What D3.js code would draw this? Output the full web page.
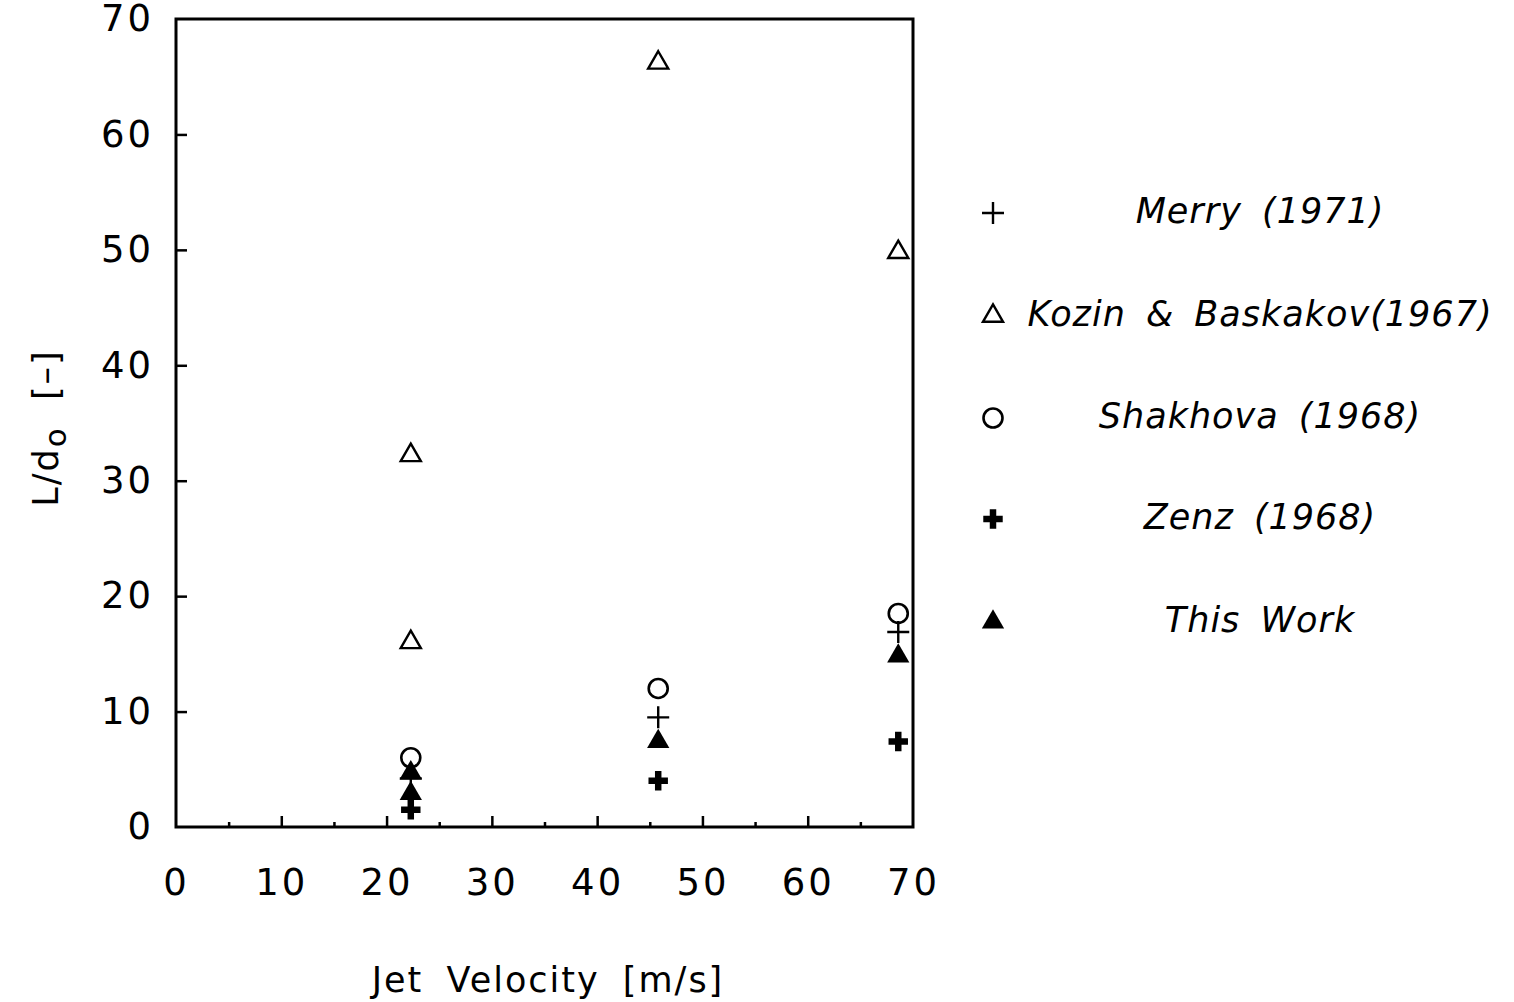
<!DOCTYPE html>
<html>
<head>
<meta charset="utf-8">
<script src="https://cdn.jsdelivr.net/npm/d3@7"></script>
<style>
  html, body { margin: 0; padding: 0; background: #fff; }
  svg { display: block; }
  text { font-family: "DejaVu Sans", sans-serif; fill: #000; }
</style>
</head>
<body>
<svg id="chart" width="1514" height="1002"></svg>
<script>
// Penetration length L/d0 versus jet velocity, several literature sources
const xTicks = [0, 10, 20, 30, 40, 50, 60, 70];
const yTicks = [0, 10, 20, 30, 40, 50, 60, 70];

const merryX = [22.3, 45.8, 68.6];
const merryY = [4.2, 9.5, 16.9];

const kozinX = [22.3, 22.3, 45.8, 68.6];
const kozinY = [32.2, 16.0, 66.2, 49.8];

const shakhovaX = [22.3, 45.8, 68.6];
const shakhovaY = [6.0, 12.0, 18.5];

const zenzX = [22.3, 45.8, 68.6];
const zenzY = [1.5, 4.0, 7.4];

const thisWorkX = [22.3, 22.3, 45.8, 68.6];
const thisWorkY = [4.7, 2.9, 7.4, 14.8];

const legendLabels = ["Merry (1971)", "Kozin & Baskakov(1967)", "Shakhova (1968)", "Zenz (1968)", "This Work"];

const svg = d3.select("#chart");
const margin = { left: 176, top: 19, right: 913, bottom: 827 };

const x = d3.scaleLinear().domain([0, 70]).range([margin.left, margin.right]);
const y = d3.scaleLinear().domain([0, 70]).range([margin.bottom, margin.top]);

// thin plus path
function thinPlus(s) {
  return `M${-s},0H${s}M0,${-s}V${s}`;
}

const markers = {
  merry: g => g.append("path").attr("d", thinPlus(11)).attr("fill", "none").attr("stroke", "#000").attr("stroke-width", 2.4),
  kozin: g => g.append("path").attr("d", d3.symbol(d3.symbolTriangle, 175)()).attr("fill", "none").attr("stroke", "#000").attr("stroke-width", 2.4),
  shakhova: g => g.append("circle").attr("r", 9.5).attr("fill", "none").attr("stroke", "#000").attr("stroke-width", 2.6),
  zenz: g => g.append("path").attr("d", d3.symbol(d3.symbolCross, 210)()).attr("fill", "#000"),
  thisWork: g => g.append("path").attr("d", d3.symbol(d3.symbolTriangle, 215)()).attr("fill", "#000")
};

const series = [
  { key: "merry", xs: merryX, ys: merryY },
  { key: "kozin", xs: kozinX, ys: kozinY },
  { key: "shakhova", xs: shakhovaX, ys: shakhovaY },
  { key: "zenz", xs: zenzX, ys: zenzY },
  { key: "thisWork", xs: thisWorkX, ys: thisWorkY }
];

// Axes (ticks pointing inward)
const xAxis = d3.axisBottom(x).tickValues(xTicks).tickSize(-11).tickSizeOuter(0).tickPadding(42).tickFormat(d3.format("d"));
const xMinor = d3.axisBottom(x).tickValues(d3.range(5, 70, 10)).tickSize(-5).tickSizeOuter(0).tickFormat("");
const yAxis = d3.axisLeft(y).tickValues(yTicks).tickSize(-11).tickSizeOuter(0).tickPadding(22).tickFormat(d3.format("d"));

const gx = svg.append("g").attr("transform", `translate(0,${margin.bottom})`).call(xAxis);
svg.append("g").attr("transform", `translate(0,${margin.bottom})`).call(xMinor);
const gy = svg.append("g").attr("transform", `translate(${margin.left},0)`).call(yAxis);

svg.selectAll(".domain").remove();
svg.selectAll(".tick line").attr("stroke", "#000").attr("stroke-width", 2.5);
gx.selectAll(".tick text").attr("font-size", 37).attr("dy", "0.71em").style("letter-spacing", "3px");
gy.selectAll(".tick text").attr("font-size", 37).style("letter-spacing", "3px");
// hide the inner ticks at the frame corners
gx.selectAll(".tick").filter(d => d === 0 || d === 70).select("line").remove();
gy.selectAll(".tick").filter(d => d === 0 || d === 70).select("line").remove();

// Frame
svg.append("rect")
  .attr("x", margin.left).attr("y", margin.top)
  .attr("width", margin.right - margin.left).attr("height", margin.bottom - margin.top)
  .attr("fill", "none").attr("stroke", "#000").attr("stroke-width", 3);

// Data points
series.forEach(s => {
  s.xs.forEach((xv, i) => {
    const g = svg.append("g").attr("transform", `translate(${x(xv)},${y(s.ys[i])})`);
    markers[s.key](g);
  });
});

// Axis titles
svg.append("text")
  .attr("x", 548).attr("y", 992)
  .attr("text-anchor", "middle").attr("font-size", 35)
  .style("word-spacing", "10px").style("letter-spacing", "2px")
  .text("Jet Velocity [m/s]");

const yt = svg.append("text")
  .attr("transform", `translate(58,428) rotate(-90)`)
  .attr("text-anchor", "middle").attr("font-size", 35).style("letter-spacing", "2px");
yt.append("tspan").text("L/d");
yt.append("tspan").attr("dy", 8).attr("font-size", 31).text("o");
yt.append("tspan").attr("dy", -8).text("  [–]").style("white-space", "pre");

// Legend
const legendKeys = ["merry", "kozin", "shakhova", "zenz", "thisWork"];
const legendY = [213, 316, 418, 519, 622];
legendKeys.forEach((k, i) => {
  const g = svg.append("g").attr("transform", `translate(993,${legendY[i]})`);
  markers[k](g);
  svg.append("text")
    .attr("x", 1260).attr("y", legendY[i] + 10)
    .attr("text-anchor", "middle").attr("font-size", 35)
    .attr("font-style", "italic")
    .style("word-spacing", "8px").style("letter-spacing", "1px")
    .text(legendLabels[i]);
});
</script>
</body>
</html>
